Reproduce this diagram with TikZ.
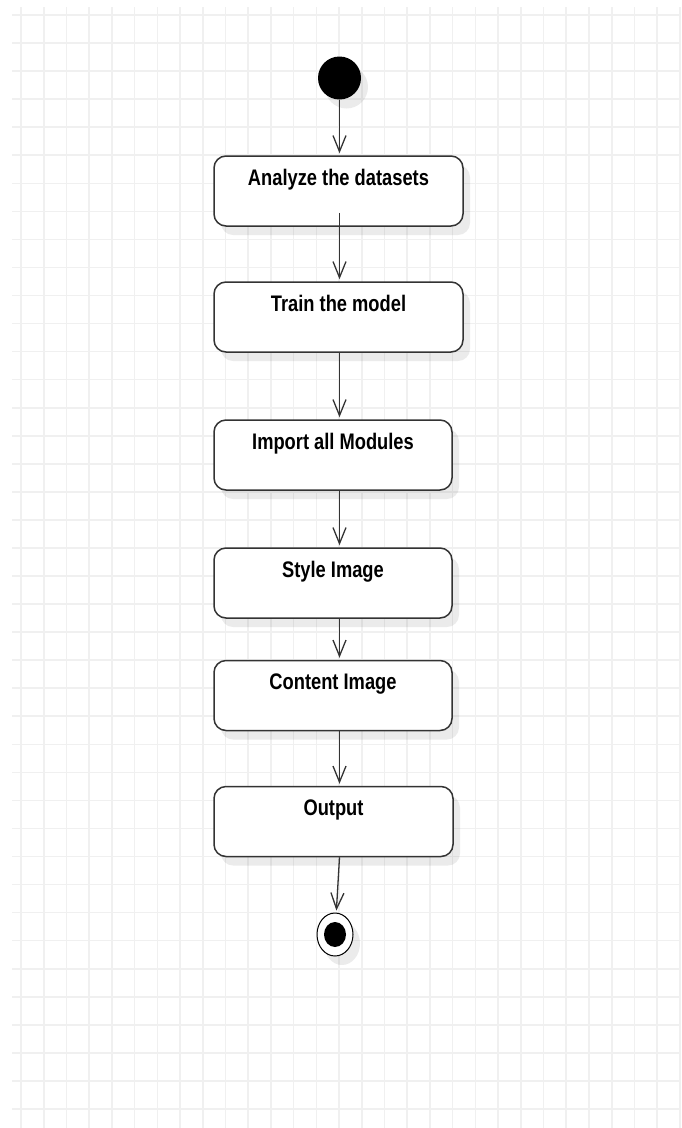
\documentclass[tikz,border=0pt]{standalone}
\usepackage{fontspec}
\setmainfont{Liberation Sans}
\usepackage{graphicx}
\usetikzlibrary{arrows.meta,shadows,shapes.geometric}
\definecolor{vien}{HTML}{333333}
\definecolor{mauluoi}{HTML}{F0F0F0}
\newcommand{\chu}[1]{\scalebox{1}[1.23]{\bfseries #1}}
\begin{document}
\begin{tikzpicture}[>={Straight Barb[length=16pt,width=13pt]},x=1pt,y=-1pt,
		luoi/.style={color=mauluoi,line width=1.6pt},
		bong/.style={drop shadow={shadow xshift=7pt,shadow yshift=-9pt,opacity=0.08,fill=black}},
		hop/.style={draw=vien,line width=1.5pt,fill=white,rounded corners=12pt,bong,inner sep=0pt,
			text height=29pt,text depth=41pt,font=\fontsize{18.3}{20}\selectfont},
		noi/.style={->,draw=vien,line width=1.3pt,shorten >=2pt}]
		\useasboundingbox[fill=white] (0,0) rectangle (681,1128);
		\foreach \i in {0,...,29} \draw[luoi] ({21+22.72*\i},7) -- ({21+22.72*\i},1128); % Vẽ lưới dọc
		\foreach \j in {0,...,39} \draw[luoi] (12,{15+28.05*\j}) -- (681,{15+28.05*\j}); % Vẽ lưới ngang
		\node[circle,fill=black,minimum size=43pt,inner sep=0pt,bong] (bd) at (339.5,78) {};
		\node[hop,minimum width=249pt] (b1) at (338.5,191) {\chu{Analyze the datasets}};
		\node[hop,minimum width=249pt] (b2) at (338.5,317) {\chu{Train the model}};
		\node[hop,minimum width=238pt] (b3) at (333,455) {\chu{Import all Modules}};
		\node[hop,minimum width=238pt] (b4) at (333,583) {\chu{Style Image}};
		\node[hop,minimum width=238pt] (b5) at (333,695.5) {\chu{Content Image}};
		\node[hop,minimum width=239pt] (b6) at (333.5,821.5) {\chu{Output}};
		\node[ellipse,draw=black,line width=1pt,fill=white,minimum width=36pt,minimum height=43pt,inner sep=0pt,bong] (kt) at (335,934.5) {};
		\fill (kt.center) ellipse [x radius=11,y radius=12.5]; % Nút kết thúc
		\draw[noi] (bd) -- (b1.north -| bd);
		\draw[noi] ([yshift=14pt]b1.south -| bd) -- (b2.north -| bd);
		\draw[noi] (b2.south -| bd) -- (b3.north -| bd);
		\draw[noi] (b3.south -| bd) -- (b4.north -| bd);
		\draw[noi] (b4.south -| bd) -- (b5.north -| bd);
		\draw[noi] (b5.south -| bd) -- (b6.north -| bd);
		\draw[noi] (b6.south -| bd) -- (kt);
		\end{tikzpicture}
\end{document}
